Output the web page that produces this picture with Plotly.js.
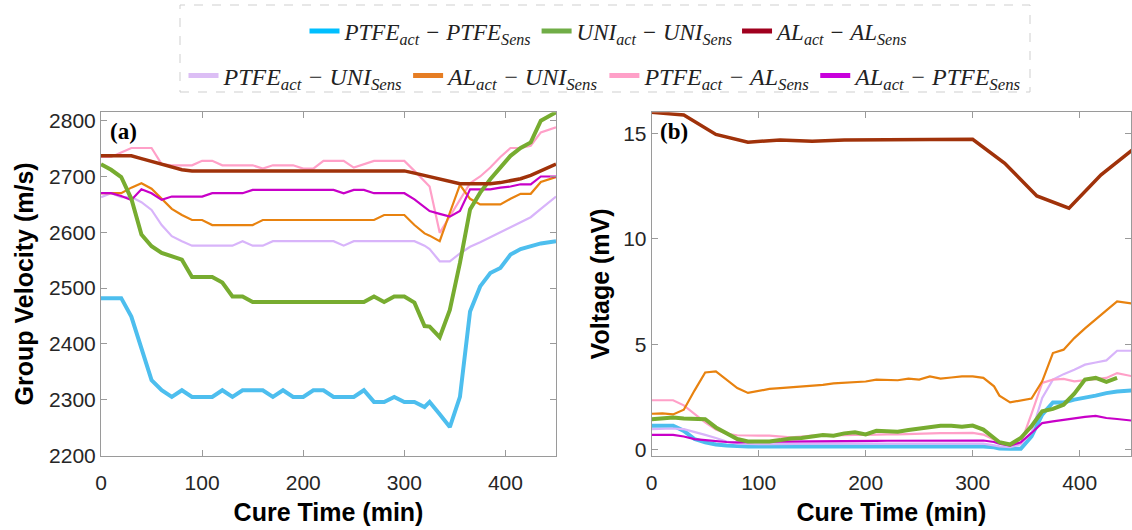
<!DOCTYPE html>
<html>
<head>
<meta charset="utf-8">
<script src="https://cdn.plot.ly/plotly-3.0.1.min.js"></script>
<style>html,body{margin:0;padding:0;background:#fff;}#chart{width:1132px;height:530px;}</style>
</head>
<body>
<div id="chart"></div>
<script>
// ---- shared time axis (min) ----
const timeMin = [0,10,20,30,40,50,60,70,80,90,
  100,110,120,130,140,150,160,170,180,190,
  200,210,220,230,240,250,260,270,280,290,
  300,310,320,
  325,335,345,355,365,375,385,395,405,415,425,435,
  450];
const timeAlAlVolt = [0,30,60,90,120,150,180,210,240,270,300,330,360,390,420,450];

// ---- (a) group velocity, m/s ----
const velPtfePtfe = [2482,2482,2482,2449,2392,2335,2317,2305,2317,2305,
  2305,2305,2317,2305,2317,2317,2317,2305,2317,2305,
  2305,2317,2317,2305,2305,2305,2317,2296,2296,2305,
  2296,2296,2287,
  2296,2274,2251,2305,2458,2503,2527,2536,2560,2570,2575,2580,
  2584];
const velUniUni = [2722,2712,2699,2660,2596,2575,2563,2557,2551,2520,
  2520,2520,2510,2485,2485,2475,2475,2475,2475,2475,
  2475,2475,2475,2475,2475,2475,2475,2485,2475,2485,
  2485,2474,2432,
  2431,2412,2461,2545,2641,2671,2695,2717,2737,2751,2761,2800,
  2815];
const velAlAl = [2737,2737,2737,2737,2732,2727,2721,2716,2712,2710,
  2710,2710,2710,2710,2710,2710,2710,2710,2710,2710,
  2710,2710,2710,2710,2710,2710,2710,2710,2710,2710,
  2710,2706,2702,
  2700,2696,2691,2687,2687,2687,2687,2689,2692,2696,2702,2710,
  2722];
const velPtfeUni = [2663,2670,2663,2663,2654,2640,2613,2593,2584,2576,
  2576,2576,2576,2576,2584,2576,2576,2584,2584,2584,
  2584,2584,2584,2584,2576,2584,2584,2584,2584,2584,
  2584,2584,2576,
  2570,2548,2548,2562,2574,2582,2591,2600,2609,2618,2627,2642,
  2664];
const velAlUni = [2670,2670,2670,2680,2688,2678,2660,2642,2631,2622,
  2622,2613,2613,2613,2613,2613,2622,2622,2622,2622,
  2622,2622,2622,2622,2622,2622,2622,2622,2631,2631,
  2631,2613,2598,
  2594,2584,2635,2685,2660,2650,2650,2650,2660,2669,2669,2690,
  2699];
const velPtfeAl = [2735,2735,2743,2751,2751,2751,2722,2720,2720,2720,
  2728,2728,2720,2720,2720,2720,2714,2720,2720,2720,
  2714,2714,2728,2728,2728,2716,2722,2728,2728,2728,
  2728,2710,2690,
  2682,2599,2628,2658,2688,2700,2716,2735,2751,2751,2755,2779,
  2788];
const velAlPtfe = [2670,2670,2665,2658,2677,2670,2658,2664,2664,2664,
  2664,2670,2670,2670,2670,2676,2676,2676,2676,2676,
  2676,2676,2676,2676,2670,2676,2676,2670,2670,2670,
  2670,2659,2645,
  2638,2633,2628,2638,2677,2677,2677,2680,2682,2686,2686,2700,
  2700];

// ---- (b) voltage, mV ----
const voltPtfePtfe = [1.13,1.13,1.13,0.89,0.50,0.34,0.24,0.19,0.16,0.15,
  0.15,0.15,0.15,0.15,0.15,0.15,0.15,0.15,0.15,0.15,
  0.15,0.15,0.15,0.15,0.15,0.16,0.16,0.16,0.16,0.16,
  0.16,0.15,0.11,
  0.05,0.04,0.04,0.63,1.66,2.24,2.24,2.37,2.45,2.56,2.68,2.76,
  2.81];
const voltUniUni = [1.44,1.48,1.52,1.48,1.45,1.44,1.05,0.75,0.50,0.39,
  0.39,0.39,0.45,0.53,0.55,0.61,0.69,0.66,0.77,0.82,
  0.72,0.89,0.87,0.85,0.93,1.00,1.05,1.13,1.13,1.08,
  1.14,0.95,0.55,
  0.35,0.24,0.55,1.11,1.82,1.93,2.13,2.65,3.32,3.40,3.21,3.40,
  null];
const voltAlAl = [16.0,15.87,14.95,14.58,14.69,14.63,14.69,14.69,14.72,14.73,14.72,13.58,12.03,11.45,13.03,14.24];
const voltPtfeUni = [0.97,1.00,1.00,0.97,0.85,0.70,0.55,0.38,0.28,0.26,
  0.26,0.26,0.27,0.27,0.27,0.28,0.28,0.28,0.28,0.28,
  0.29,0.29,0.29,0.29,0.30,0.30,0.30,0.30,0.30,0.30,
  0.30,0.28,0.20,
  0.15,0.12,0.25,0.80,2.45,3.32,3.58,3.79,4.03,4.13,4.23,4.69,
  4.69];
const voltAlUni = [1.70,1.72,1.67,1.89,2.80,3.66,3.71,3.30,2.92,2.69,
  2.80,2.88,2.92,2.95,2.98,3.01,3.07,3.14,3.18,3.20,
  3.23,3.32,3.30,3.29,3.37,3.32,3.47,3.37,3.42,3.47,
  3.47,3.40,3.00,
  2.56,2.24,2.32,2.42,3.24,4.58,4.74,5.29,5.75,6.16,6.60,7.03,
  6.92];
const voltPtfeAl = [2.34,2.34,2.34,2.10,1.70,1.29,0.95,0.75,0.68,0.66,
  0.66,0.66,0.62,0.58,0.62,0.66,0.66,0.68,0.70,0.70,
  0.70,0.72,0.72,0.72,0.74,0.74,0.76,0.78,0.78,0.80,
  0.79,0.71,0.47,
  0.35,0.24,0.30,1.70,3.16,3.32,3.35,3.24,3.29,3.35,3.40,3.63,
  3.47];
const voltAlPtfe = [0.70,0.70,0.70,0.62,0.50,0.45,0.40,0.36,0.34,0.36,
  0.37,0.38,0.38,0.38,0.39,0.39,0.40,0.40,0.40,0.41,
  0.41,0.41,0.42,0.42,0.42,0.43,0.43,0.44,0.44,0.44,
  0.44,0.43,0.36,
  0.28,0.19,0.35,0.79,1.26,1.34,1.42,1.47,1.55,1.60,1.50,1.45,
  1.37];

// ---- legend labels ----
const legendNames = [
  "<i>PTFE<sub>act</sub> − PTFE<sub>Sens</sub></i>",
  "<i>UNI<sub>act</sub> − UNI<sub>Sens</sub></i>",
  "<i>AL<sub>act</sub> − AL<sub>Sens</sub></i>",
  "<i>PTFE<sub>act</sub> − UNI<sub>Sens</sub></i>",
  "<i>AL<sub>act</sub> − UNI<sub>Sens</sub></i>",
  "<i>PTFE<sub>act</sub> − AL<sub>Sens</sub></i>",
  "<i>AL<sub>act</sub> − PTFE<sub>Sens</sub></i>"
];
const legendColors = ["#00bfff","#70ad47","#a0001e","#dcbef5","#e67d23","#ffa0c8","#c800dc"];

const C = {blue:"#4dbeee", green:"#77ac30", brown:"#a0320a", lav:"#d8b4fa", orange:"#e8820f", pink:"#ffa0c8", mag:"#c800c8"};

function ln(x, y, color, width, xa, ya){
  return {x:x, y:y, type:"scatter", mode:"lines", line:{color:color, width:width}, xaxis:xa, yaxis:ya, showlegend:false, hoverinfo:"skip", connectgaps:false};
}

const traces = [
  // (a)
  ln(timeMin, velPtfePtfe, C.blue, 4, "x", "y"),
  ln(timeMin, velPtfeUni, C.lav, 2.2, "x", "y"),
  ln(timeMin, velPtfeAl, C.pink, 2.2, "x", "y"),
  ln(timeMin, velAlUni, C.orange, 2.2, "x", "y"),
  ln(timeMin, velAlPtfe, C.mag, 2.2, "x", "y"),
  ln(timeMin, velUniUni, C.green, 4, "x", "y"),
  ln(timeMin, velAlAl, C.brown, 3.5, "x", "y"),
  // (b)
  ln(timeMin, voltPtfePtfe, C.blue, 4, "x2", "y2"),
  ln(timeMin, voltPtfeUni, C.lav, 2.2, "x2", "y2"),
  ln(timeMin, voltPtfeAl, C.pink, 2.2, "x2", "y2"),
  ln(timeMin, voltAlUni, C.orange, 2.2, "x2", "y2"),
  ln(timeMin, voltAlPtfe, C.mag, 2.2, "x2", "y2"),
  ln(timeMin, voltUniUni, C.green, 4, "x2", "y2"),
  ln(timeAlAlVolt, voltAlAl, C.brown, 3.5, "x2", "y2")
];
// legend-only entries
legendNames.forEach(function(n, i){
  traces.push({x:[null], y:[null], type:"scatter", mode:"lines", name:n,
    line:{color:legendColors[i], width:5}, xaxis:"x", yaxis:"y",
    legend: i < 3 ? "legend" : "legend2", showlegend:true});
});

const W = 1132, H = 530;
const tickFont = {family:"Liberation Sans, Arial, sans-serif", size:21, color:"#262626"};
const titleFont = {family:"Liberation Sans, Arial, sans-serif", size:25, color:"#000"};
function axisCommon(extra){
  return Object.assign({showline:true, mirror:"ticks", linecolor:"#9a9a9a", linewidth:1,
    ticks:"inside", ticklen:6, tickcolor:"#9a9a9a", showgrid:false, zeroline:false,
    tickfont:tickFont, fixedrange:true}, extra);
}
const legFont = {family:"Liberation Serif, 'DejaVu Serif', serif", size:23, color:"#222"};
const legFont2 = {family:"Liberation Serif, 'DejaVu Serif', serif", size:24, color:"#222"};

const layout = {
  width:W, height:H,
  margin:{l:0, r:0, t:0, b:0},
  paper_bgcolor:"#fff", plot_bgcolor:"#fff",
  xaxis: axisCommon({domain:[101/W, 556/W], range:[0,450], tickvals:[0,100,200,300,400],
    ticklabelstandoff:8,
    title:{text:"<b>Cure Time (min)</b>", font:titleFont, standoff:10}, anchor:"y"}),
  yaxis: axisCommon({domain:[1-455.5/H, 1-112.3/H], range:[2200,2815], tickvals:[2200,2300,2400,2500,2600,2700,2800],
    title:{text:"<b>Group Velocity (m/s)</b>", font:titleFont, standoff:8}, anchor:"x"}),
  xaxis2: axisCommon({domain:[651.7/W, 1131/W], range:[0,448], tickvals:[0,100,200,300,400],
    ticklabelstandoff:8,
    title:{text:"<b>Cure Time (min)</b>", font:titleFont, standoff:10}, anchor:"y2"}),
  yaxis2: axisCommon({domain:[1-455.5/H, 1-112.3/H], range:[-0.28,16], tickvals:[0,5,10,15],
    title:{text:"<b>Voltage (mV)</b>", font:titleFont, standoff:6}, anchor:"x2"}),
  legend: {orientation:"h", x:609/W, xanchor:"center", y:1-31/H, yanchor:"middle",
    font:legFont, bgcolor:"rgba(0,0,0,0)", itemwidth:30},
  legend2: {orientation:"h", x:606/W, xanchor:"center", y:1-76/H, yanchor:"middle",
    font:legFont2, bgcolor:"rgba(0,0,0,0)", itemwidth:30},
  shapes: [{type:"rect", xref:"paper", yref:"paper", x0:180/W, x1:1030/W, y0:1-92/H, y1:1-5/H,
    line:{color:"#cfcfcf", width:1, dash:"dash"}, fillcolor:"rgba(0,0,0,0)"}],
  annotations: [
    {text:"<b>(a)</b>", xref:"paper", yref:"paper", x:108/W, y:1-131/H, xanchor:"left", yanchor:"middle",
      showarrow:false, font:{family:"Liberation Serif, 'Times New Roman', serif", size:23, color:"#000"}},
    {text:"<b>(b)</b>", xref:"paper", yref:"paper", x:658/W, y:1-131/H, xanchor:"left", yanchor:"middle",
      showarrow:false, font:{family:"Liberation Serif, 'Times New Roman', serif", size:23, color:"#000"}}
  ],
  showlegend:true
};

Plotly.newPlot("chart", traces, layout, {staticPlot:true, displayModeBar:false});
</script>
</body>
</html>
